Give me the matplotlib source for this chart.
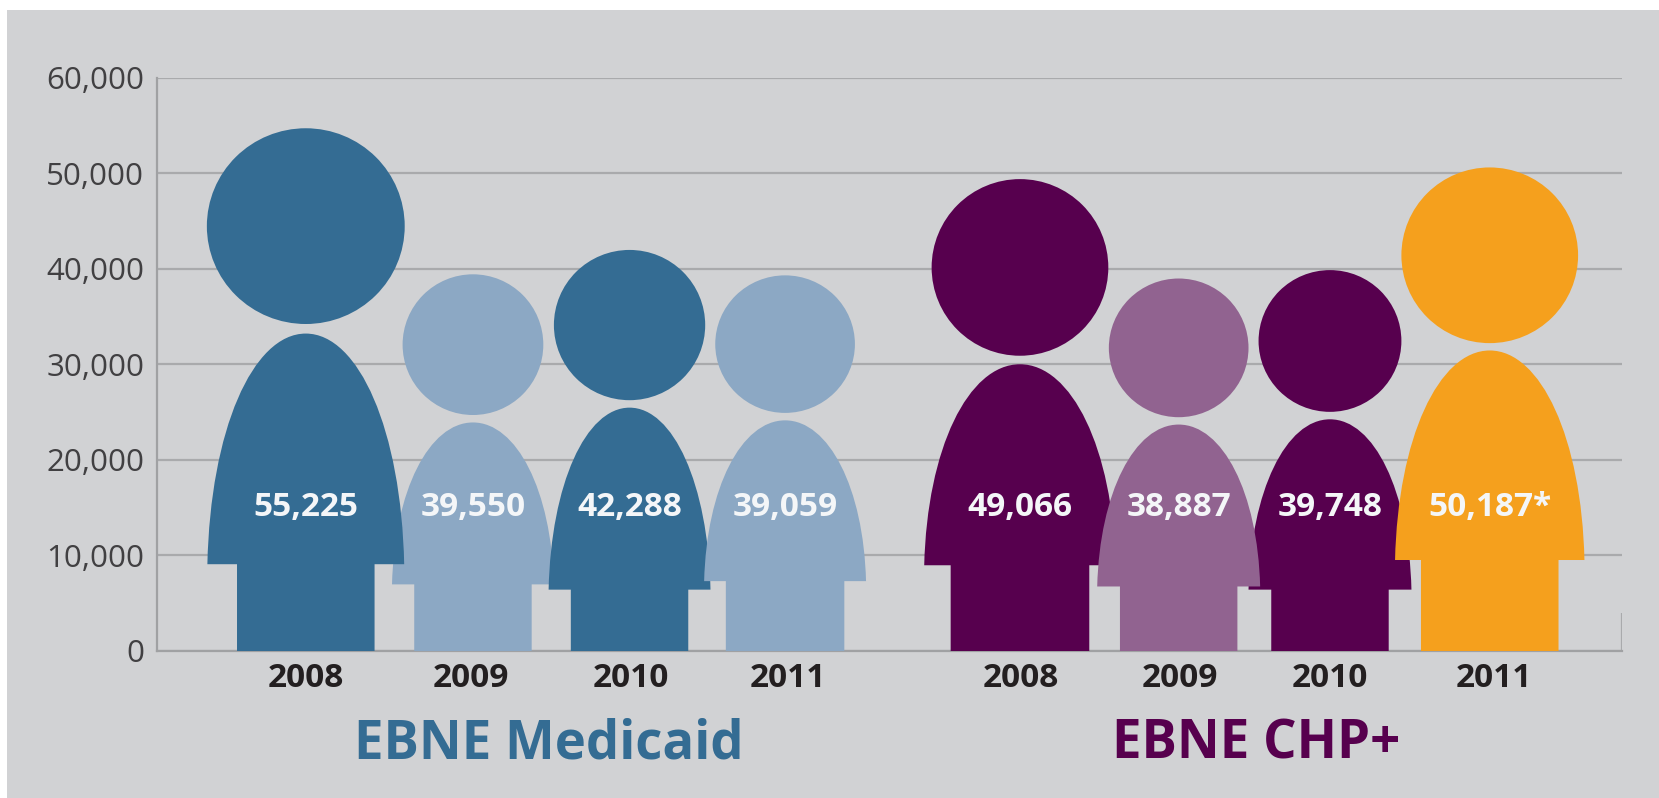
import matplotlib
matplotlib.use("Agg")
import matplotlib.pyplot as plt
from matplotlib.patches import Ellipse, PathPatch, Rectangle
from matplotlib.path import Path

plt.rcParams["font.family"] = ["Open Sans", "DejaVu Sans"]

# Medicaid then CHP+
years = ["2008", "2009", "2010", "2011", "2008", "2009", "2010", "2011"]
value_labels = ["55,225", "39,550", "42,288", "39,059", "49,066", "38,887", "39,748", "50,187*"]
groups = ["EBNE Medicaid", "EBNE CHP+"]

# height of each figure
heights = [54690, 39410, 41960, 39300, 49370, 38970, 39850, 50590]

# person shape, y in chart units, x on a plain layout scale
centers = [289, 447, 595, 742, 964, 1114, 1257, 1408]
tick_pos = [289, 445, 596, 745, 965, 1115, 1257, 1412]
head_bottom = [34210, 24690, 26240, 24910, 30890, 24460, 25020, 32210]
head_w = [187, 133, 143, 132, 167, 132, 135, 167]
body_top = [33210, 23910, 25460, 24130, 30000, 23690, 24240, 31440]
shoulder = [9080, 6970, 6420, 7310, 8970, 6750, 6420, 9520]
body_w = [186, 153, 153, 153, 181, 154, 154, 179]
leg_w = [130, 111, 111, 112, 131, 111, 111, 130]
colors = ["#346C93", "#8CA8C4", "#346C93", "#8CA8C4", "#57004E", "#916390", "#57004E", "#F5A01D"]
draw_order = [1, 0, 2, 3, 4, 6, 5, 7]

fig = plt.figure(figsize=(16.59, 7.98), dpi=100, facecolor="white")
fig.add_artist(Rectangle((7 / 1659, 0), 1, 1 - 10 / 798, transform=fig.transFigure,
                         facecolor="#D1D2D4", edgecolor="none", zorder=-5))

ax = fig.add_axes([156.6 / 1659, 1 - 651 / 798, (1622 - 156.6) / 1659, (651 - 77.5) / 798])
ax.patch.set_alpha(0)
ax.set_xlim(148, 1533)
ax.set_ylim(0, 60000)

ax.set_yticks([0, 10000, 20000, 30000, 40000, 50000, 60000])
ax.yaxis.set_major_formatter(matplotlib.ticker.StrMethodFormatter("{x:,.0f}"))
ax.tick_params(axis="y", length=0, labelsize=22.5, labelcolor="#414042", pad=9)
ax.grid(axis="y", color="#A9AAAC", lw=1.6, zorder=0)
ax.set_axisbelow(True)

for side in ["top", "right"]:
    ax.spines[side].set_visible(False)
for side in ["left", "bottom"]:
    ax.spines[side].set_color("#A0A1A3")
    ax.spines[side].set_linewidth(1.6)
ax.vlines(1533, 0, 4000, color="#A9AAAC", lw=1.6)

for i in draw_order:
    cx = centers[i]
    ax.add_patch(Ellipse((cx, (heights[i] + head_bottom[i]) / 2), head_w[i], heights[i] - head_bottom[i],
                         facecolor=colors[i], edgecolor="none", zorder=3))
    half = body_w[i] / 2
    leg = leg_w[i] / 2
    top = body_top[i]
    s = shoulder[i]
    h = top - s
    verts = [(cx - leg, 0), (cx - leg, s), (cx - half, s),
             (cx - half * 0.97, s + 0.58 * h), (cx - half * 0.54, top), (cx, top),
             (cx + half * 0.54, top), (cx + half * 0.97, s + 0.58 * h), (cx + half, s),
             (cx + leg, s), (cx + leg, 0), (cx - leg, 0)]
    codes = [Path.MOVETO, Path.LINETO, Path.LINETO,
             Path.CURVE4, Path.CURVE4, Path.CURVE4,
             Path.CURVE4, Path.CURVE4, Path.CURVE4,
             Path.LINETO, Path.LINETO, Path.CLOSEPOLY]
    ax.add_patch(PathPatch(Path(verts, codes), facecolor=colors[i], edgecolor="none", zorder=3))

# labels go on top of all the figures
for i in range(len(centers)):
    ax.text(centers[i], 15050, value_labels[i], ha="center", va="center", color="#F4F6F8",
            fontsize=24, fontweight="bold", zorder=4)

ax.set_xticks(tick_pos)
ax.set_xticklabels(years, fontsize=24, fontweight="bold", color="#231F20")
ax.tick_params(axis="x", length=0, pad=8)

ax.text(519, -9800, groups[0], ha="center", va="center", color="#346C93",
        fontsize=38, fontweight="bold", clip_on=False)
ax.text(1187, -9800, groups[1], ha="center", va="center", color="#57004E",
        fontsize=38, fontweight="bold", clip_on=False)

fig.savefig("out.png", dpi=100)
